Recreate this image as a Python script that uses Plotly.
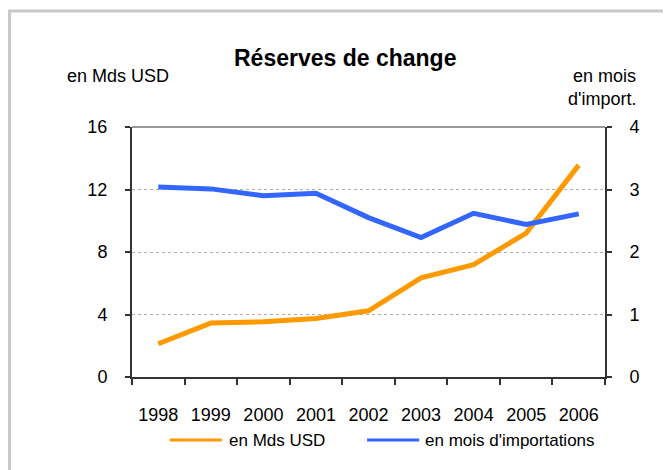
import plotly.graph_objects as go

years = ["1998", "1999", "2000", "2001", "2002", "2003", "2004", "2005", "2006"]
mds_usd = [2.13, 3.45, 3.54, 3.75, 4.24, 6.35, 7.19, 9.21, 13.56]
mois_import = [3.04, 3.01, 2.90, 2.94, 2.55, 2.23, 2.62, 2.44, 2.61]

left_ticks = [0, 4, 8, 12, 16]
right_ticks = [0, 1, 2, 3, 4]

series_names = ["en Mds USD", "en mois d'importations"]

FONT = "Liberation Sans, Arial, sans-serif"
ORANGE = "#FF9900"
BLUE = "#3366FF"

fig = go.Figure()
fig.add_trace(go.Scatter(x=years, y=mds_usd, name=series_names[0], mode="lines",
                         line=dict(color=ORANGE, width=5), yaxis="y"))
fig.add_trace(go.Scatter(x=years, y=mois_import, name=series_names[1], mode="lines",
                         line=dict(color=BLUE, width=5), yaxis="y2"))

# legend drawn manually (sample line + text) to match the reference spacing
legend_y = -0.252
legend_shapes = [
    dict(type="line", xref="paper", yref="paper", x0=0.080, x1=0.190, y0=legend_y, y1=legend_y,
         line=dict(color=ORANGE, width=3)),
    dict(type="line", xref="paper", yref="paper", x0=0.497, x1=0.607, y0=legend_y, y1=legend_y,
         line=dict(color=BLUE, width=3)),
]
legend_annots = [
    dict(text=series_names[0], xref="paper", yref="paper", x=0.200, y=legend_y,
         xanchor="left", yanchor="middle", showarrow=False, font=dict(size=17)),
    dict(text=series_names[1], xref="paper", yref="paper", x=0.616, y=legend_y,
         xanchor="left", yanchor="middle", showarrow=False, font=dict(size=17)),
]

fig.update_layout(
    width=663, height=462,
    margin=dict(l=124, r=66, t=119, b=93),
    paper_bgcolor="white", plot_bgcolor="white",
    font=dict(family=FONT, size=18, color="black"),
    showlegend=False,
    xaxis=dict(type="category", tickson="boundaries", ticks="outside", ticklen=6,
               tickcolor="#333", tickwidth=1.5, showline=True, linecolor="#333", linewidth=2,
               showgrid=False, ticklabelstandoff=20, range=[-0.5, 8.5]),
    yaxis=dict(range=[0, 16], tickvals=left_ticks, ticks="outside", ticklen=5,
               tickcolor="#333", tickwidth=1.5, showline=True, linecolor="#333", linewidth=2,
               showgrid=True, gridcolor="#b0b0b0", griddash="dot", gridwidth=1,
               zeroline=False, ticklabelstandoff=14),
    yaxis2=dict(range=[0, 4], tickvals=right_ticks, overlaying="y", side="right",
                ticks="outside", ticklen=5, tickcolor="#333", tickwidth=1.5,
                showline=True, linecolor="#333", linewidth=2, showgrid=False,
                zeroline=False, ticklabelstandoff=14),
    shapes=[
        dict(type="line", xref="paper", yref="paper", x0=0, x1=1, y0=1, y1=1,
             line=dict(color="#999999", width=2)),
        dict(type="rect", xref="paper", yref="paper", x0=-0.259, x1=1.3, y0=-0.6, y1=1.464,
             line=dict(color="#c8c8c8", width=3), fillcolor="rgba(0,0,0,0)", layer="below"),
    ] + legend_shapes,
    annotations=[
        dict(text="<b>Réserves de change</b>", xref="paper", yref="paper", x=0.45, y=1.276,
             xanchor="center", yanchor="middle", showarrow=False, font=dict(size=23)),
        dict(text="en Mds USD", xref="paper", yref="paper", x=-0.03, y=1.204,
             xanchor="center", yanchor="middle", showarrow=False, font=dict(size=18)),
        dict(text="en mois", xref="paper", yref="paper", x=1.07, y=1.204,
             xanchor="right", yanchor="middle", showarrow=False, font=dict(size=18)),
        dict(text="d'import.", xref="paper", yref="paper", x=1.07, y=1.112,
             xanchor="right", yanchor="middle", showarrow=False, font=dict(size=18)),
    ] + legend_annots,
)

fig.write_html("out.html")
